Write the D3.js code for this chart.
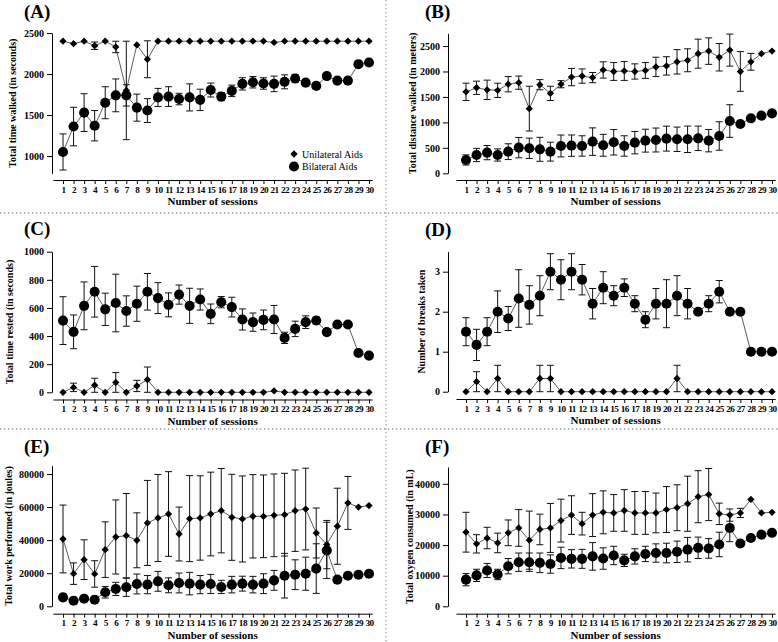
<!DOCTYPE html>
<html>
<head>
<meta charset="utf-8">
<script src="https://cdn.jsdelivr.net/npm/d3@7"></script>
<style>
  body { margin: 0; background: #fff; }
  svg { display: block; }
  text { font-family: "Liberation Serif", "Times New Roman", serif; }
</style>
</head>
<body>
<svg id="chart" width="778" height="642"></svg>
<script>
// sessions on the x axis
var sessions = [1,2,3,4,5,6,7,8,9,10,11,12,13,14,15,16,17,18,19,20,21,22,23,24,25,26,27,28,29,30];
var seriesNames = ["Unilateral Aids", "Bilateral Aids"];

// (A) total time walked
var aUniMean = [2400,2370,2400,2345,2400,2330,1800,2355,2180,2400,2400,2400,2400,2400,2400,2400,2400,2400,2400,2400,2385,2400,2400,2400,2400,2400,2400,2400,2400,2400];
var aUniSd   = [0,0,0,45,0,70,600,0,225,0,0,0,0,0,0,0,0,0,0,0,0,0,0,0,0,0,0,0,0,0];
var aBiMean  = [1050,1360,1530,1370,1650,1740,1740,1590,1555,1715,1725,1695,1715,1685,1805,1725,1795,1880,1900,1885,1880,1905,1945,1895,1855,1975,1920,1920,2120,2140];
var aBiSd    = [220,235,230,185,195,200,130,165,145,110,120,70,165,130,85,50,70,75,70,70,95,85,50,0,0,0,0,0,0,0];

// (B) total distance walked
var bUniMean = [1600,1680,1640,1630,1750,1780,1270,1740,1570,1750,1890,1910,1880,2030,2000,2010,2000,2020,2090,2110,2190,2220,2350,2400,2280,2420,2000,2190,2350,2400];
var bUniSd   = [170,130,190,140,150,130,440,100,140,70,170,140,100,160,175,185,150,155,190,180,240,225,285,260,270,315,390,165,0,0];
var bBiMean  = [262,360,406,360,425,504,491,471,425,537,543,537,622,550,609,537,602,641,654,681,668,668,687,641,733,1027,969,1080,1132,1178];
var bBiSd    = [100,130,140,120,155,200,200,235,185,215,210,200,270,215,250,200,220,225,235,245,240,260,240,220,280,320,0,0,0,0];

// (C) total time rested
var cUniMean = [0,35,0,50,0,70,0,45,90,0,0,0,0,0,0,0,0,0,0,0,10,0,0,0,0,0,0,0,0,0];
var cUniSd   = [0,30,0,50,0,70,0,40,90,0,0,0,0,0,0,0,0,0,0,0,0,0,0,0,0,0,0,0,0,0];
var cBiMean  = [510,430,615,715,590,635,578,630,715,670,622,695,615,660,558,641,606,518,499,515,518,387,451,499,511,428,482,482,280,261];
var cBiSd    = [170,120,170,180,115,205,108,125,130,110,85,68,125,75,70,40,70,75,65,70,100,40,55,45,25,0,0,0,0,0];

// (D) number of breaks
var dUniMean = [0,0.25,0,0.33,0,0,0,0.33,0.33,0,0,0,0,0,0,0,0,0,0,0,0.33,0,0,0,0,0,0,0,0,0];
var dUniSd   = [0,0.25,0,0.33,0,0,0,0.33,0.33,0,0,0,0,0,0,0,0,0,0,0,0.33,0,0,0,0,0,0,0,0,0];
var dBiMean  = [1.5,1.17,1.5,2.0,1.83,2.33,2.17,2.4,3.0,2.8,3.0,2.8,2.2,2.6,2.4,2.6,2.2,1.8,2.2,2.2,2.4,2.2,2.0,2.2,2.5,2.0,2.0,1.0,1.0,1.0];
var dBiSd    = [0.35,0.39,0.35,0.52,0.3,0.72,0.48,0.5,0.45,0.5,0.45,0.38,0.38,0.4,0.25,0.22,0.2,0.2,0.38,0.6,0.5,0.38,0,0.2,0.28,0,0,0,0,0];

// (E) total work performed
var eUniMean = [40700,19750,28200,19550,34250,41900,42700,39900,50400,53400,55800,43700,53000,53400,55800,57800,53800,52800,54400,54400,55000,55400,57800,58800,44300,37300,48400,62500,60000,60900];
var eUniSd   = [20500,6500,12000,8000,16800,22400,25500,16600,25700,26300,25600,16300,26000,25500,25300,25500,26000,26000,25200,25000,25000,25000,24600,24700,15100,14600,23000,16000,0,0];
var eBiMean  = [5400,3400,4600,4000,8500,10500,11500,13500,13100,15100,12700,14100,13700,13100,13500,11700,13100,13700,13100,13700,15700,18500,19100,19700,22800,33800,16100,18500,19100,19700];
var eBiSd    = [2000,0,0,0,3500,4000,5500,6000,5500,6000,4500,6000,6800,5500,5800,4000,5000,4500,5000,6000,6000,13500,9000,10000,15000,17000,0,0,0,0];

// (F) total oxygen consumed
var fUniMean = [24200,20400,22300,20700,24000,25600,21600,25100,25600,28000,29800,27000,29800,30700,30500,31300,30500,30500,30500,31600,32200,33500,35800,36500,30200,29800,30500,34900,30500,30700];
var fUniSd   = [6500,3000,3500,3200,4200,6000,9500,5000,8000,7000,6300,3700,7000,7000,6000,6800,7000,7000,6500,7500,7500,9000,8500,8500,3500,2000,1500,0,0,0];
var fBiMean  = [8700,10100,11700,10400,13100,14400,14400,14200,13800,15800,15500,15500,16300,15600,16600,15000,16300,17100,17400,17400,17800,18500,19100,18900,20200,25600,20500,22300,23400,24000];
var fBiSd    = [2000,2000,2300,1700,2500,3000,3000,3200,3000,3500,3000,3100,4500,3500,3000,2000,2500,2500,3000,3200,3500,4000,3500,3200,4000,4500,0,0,0,0];

var svg = d3.select("#chart");
svg.append("rect").attr("width", 778).attr("height", 642).attr("fill", "#fff");

// dotted separators between the panels
var sep = svg.append("g")
  .attr("stroke", "#999")
  .attr("stroke-width", 1.3)
  .attr("stroke-dasharray", "1.3,2.7");
sep.append("line").attr("x1", 386).attr("x2", 386).attr("y1", 0).attr("y2", 642);
sep.append("line").attr("x1", 0).attr("x2", 778).attr("y1", 213).attr("y2", 213);
sep.append("line").attr("x1", 0).attr("x2", 778).attr("y1", 429).attr("y2", 429);

function drawPanel(p) {
  var g = svg.append("g");

  var x = d3.scaleLinear().domain([1, 30]).range(p.xr);
  var y = d3.scaleLinear().domain(p.domain).range(p.yr);

  // y axis
  var yAxis = g.append("g")
    .attr("transform", "translate(" + p.axisX + ",0)")
    .call(d3.axisLeft(y).tickValues(p.ticks).tickSize(5).tickSizeOuter(0).tickPadding(3).tickFormat(d3.format("d")));
  yAxis.selectAll("text")
    .style("font-size", "10px")
    .style("font-weight", "bold")
    .style("font-family", "'Liberation Serif', serif");

  // x axis, offset a little below the y axis
  var xa = x.copy().domain([0.05, 30.3]).range([x(0.05), x(30.3)]);
  var xAxis = g.append("g")
    .attr("transform", "translate(0," + p.xAxisY + ")")
    .call(d3.axisBottom(xa).tickValues(sessions).tickSize(4).tickSizeOuter(0).tickPadding(2).tickFormat(d3.format("d")));
  xAxis.selectAll("text")
    .style("font-size", "9.2px")
    .style("font-weight", "bold")
    .style("font-family", "'Liberation Serif', serif")
    .attr("letter-spacing", "-0.5px");
  g.selectAll(".domain").attr("stroke", "#000").attr("stroke-width", 1);

  g.append("text")
    .attr("x", (x(0.05) + x(30.3)) / 2)
    .attr("y", p.xAxisY + 25)
    .attr("text-anchor", "middle")
    .style("font-size", "11px")
    .style("font-weight", "bold")
    .text("Number of sessions");

  g.append("text")
    .attr("transform", "translate(" + p.titleX + "," + ((p.yr[0] + p.yr[1]) / 2) + ") rotate(-90)")
    .attr("dy", "0.35em")
    .attr("text-anchor", "middle")
    .style("font-size", "10px")
    .style("font-weight", "bold")
    .text(p.yTitle);

  g.append("text")
    .attr("x", p.labelX)
    .attr("y", p.labelY)
    .style("font-size", "19px")
    .style("font-weight", "bold")
    .text(p.label);

  var series = [
    { mean: p.bi, sd: p.biSd, shape: "circle" },
    { mean: p.uni, sd: p.uniSd, shape: "diamond" }
  ];

  series.forEach(function (s) {
    var pts = sessions.map(function (d, i) { return { s: d, m: s.mean[i], sd: s.sd[i] }; });

    g.append("path")
      .datum(pts)
      .attr("fill", "none")
      .attr("stroke", "#333")
      .attr("stroke-width", 0.8)
      .attr("d", d3.line().x(function (d) { return x(d.s); }).y(function (d) { return y(d.m); }));

    var eb = g.append("g").attr("stroke", "#111").attr("stroke-width", 1)
      .selectAll("g").data(pts.filter(function (d) { return d.sd > 0; })).enter().append("g");
    eb.append("line")
      .attr("x1", function (d) { return x(d.s); })
      .attr("x2", function (d) { return x(d.s); })
      .attr("y1", function (d) { return y(d.m + d.sd); })
      .attr("y2", function (d) { return y(Math.max(p.domain[0], d.m - d.sd)); });
    eb.append("line")
      .attr("x1", function (d) { return x(d.s) - 3.5; })
      .attr("x2", function (d) { return x(d.s) + 3.5; })
      .attr("y1", function (d) { return y(d.m + d.sd); })
      .attr("y2", function (d) { return y(d.m + d.sd); });
    eb.append("line")
      .attr("x1", function (d) { return x(d.s) - 3.5; })
      .attr("x2", function (d) { return x(d.s) + 3.5; })
      .attr("y1", function (d) { return y(Math.max(p.domain[0], d.m - d.sd)); })
      .attr("y2", function (d) { return y(Math.max(p.domain[0], d.m - d.sd)); });

    var sym = s.shape == "circle" ? d3.symbol(d3.symbolCircle, 80) : d3.symbol(d3.symbolDiamond2, 34);
    g.append("g").selectAll("path").data(pts).enter().append("path")
      .attr("transform", function (d) { return "translate(" + x(d.s) + "," + y(d.m) + ")"; })
      .attr("d", sym)
      .attr("fill", "#000");
  });

  if (p.legend) {
    var lg = g.append("g");
    seriesNames.forEach(function (name, i) {
      var yy = 154 + i * 12.5;
      lg.append("path")
        .attr("transform", "translate(294," + yy + ")")
        .attr("d", i == 0 ? d3.symbol(d3.symbolDiamond2, 34) : d3.symbol(d3.symbolCircle, 80))
        .attr("fill", "#000");
      lg.append("text")
        .attr("x", 302)
        .attr("y", yy)
        .attr("dy", "0.35em")
        .style("font-size", "10px")
        .text(name);
    });
  }
}

var leftX = [63, 369];
var rightX = [466, 772];

drawPanel({ label: "(A)", labelX: 24, labelY: 18, yTitle: "Total time walked (in seconds)", titleX: 12,
  xr: leftX, axisX: 52, xAxisY: 180, domain: [790, 2500], yr: [173.3, 33], ticks: [1000, 1500, 2000, 2500],
  uni: aUniMean, uniSd: aUniSd, bi: aBiMean, biSd: aBiSd, legend: true });

drawPanel({ label: "(B)", labelX: 425, labelY: 18, yTitle: "Total distance walked  (in meters)", titleX: 412,
  xr: rightX, axisX: 448, xAxisY: 180, domain: [0, 2750], yr: [173.3, 33.3], ticks: [0, 500, 1000, 1500, 2000, 2500],
  uni: bUniMean, uniSd: bUniSd, bi: bBiMean, biSd: bBiSd });

drawPanel({ label: "(C)", labelX: 24, labelY: 235, yTitle: "Total time rested (in seconds)", titleX: 9,
  xr: leftX, axisX: 52, xAxisY: 399.5, domain: [0, 1000], yr: [392.3, 251.7], ticks: [0, 200, 400, 600, 800, 1000],
  uni: cUniMean, uniSd: cUniSd, bi: cBiMean, biSd: cBiSd });

drawPanel({ label: "(D)", labelX: 425, labelY: 236, yTitle: "Number of breaks taken", titleX: 421,
  xr: rightX, axisX: 448, xAxisY: 399, domain: [0, 3.5], yr: [391.7, 251.7], ticks: [0, 1, 2, 3],
  uni: dUniMean, uniSd: dUniSd, bi: dBiMean, biSd: dBiSd });

drawPanel({ label: "(E)", labelX: 24, labelY: 453, yTitle: "Total work performed (in joules)", titleX: 8,
  xr: leftX, axisX: 52, xAxisY: 613.7, domain: [0, 85000], yr: [606.3, 465.7], ticks: [0, 20000, 40000, 60000, 80000],
  uni: eUniMean, uniSd: eUniSd, bi: eBiMean, biSd: eBiSd });

drawPanel({ label: "(F)", labelX: 425, labelY: 453, yTitle: "Total oxygen consumed (in mL)", titleX: 409,
  xr: rightX, axisX: 448, xAxisY: 613.7, domain: [0, 45500], yr: [606.3, 467], ticks: [0, 10000, 20000, 30000, 40000],
  uni: fUniMean, uniSd: fUniSd, bi: fBiMean, biSd: fBiSd });
</script>
</body>
</html>
